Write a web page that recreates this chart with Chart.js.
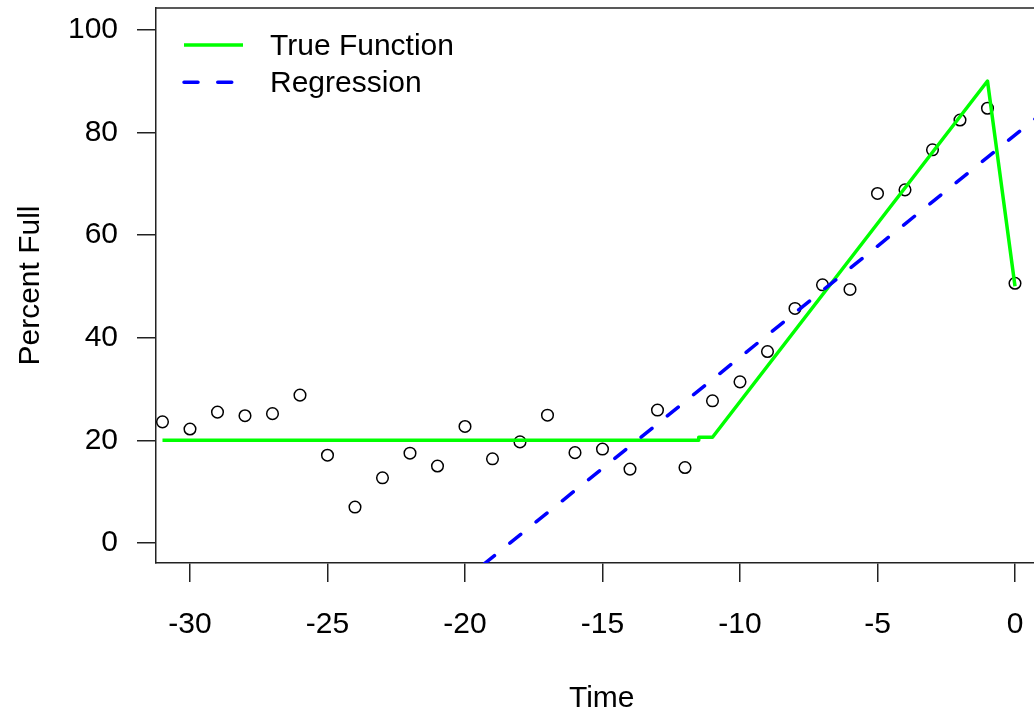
<!DOCTYPE html>
<html><head><meta charset="utf-8">
<script src="https://cdn.jsdelivr.net/npm/chart.js@4.4.1/dist/chart.umd.min.js"></script>
<style>html,body{margin:0;padding:0;background:#fff;overflow:hidden}canvas{display:block}</style>
</head><body>
<canvas id="c" width="1034" height="714"></canvas>
<script>
// ---- data ----
const timeVals = [-31,-30,-29,-28,-27,-26,-25,-24,-23,-22,-21,-20,-19,-18,-17,-16,-15,-14,-13,-12,-11,-10,-9,-8,-7,-6,-5,-4,-3,-2,-1,0];
const pctFull  = [23.6,22.2,25.5,24.8,25.2,28.8,17.1,7.0,12.7,17.5,15.0,22.7,16.4,19.7,24.9,17.6,18.3,14.4,25.9,14.7,27.7,31.4,37.3,45.7,50.3,49.4,68.1,68.8,76.6,82.4,84.7,50.6];
const trueX = [-31, -11.5, -11.5, -11, -1, 0];
const trueY = [20, 20, 20.6, 20.6, 90, 50];
const regX = [-31, 1];
const regY = [-54.7, 83.8];
const xTicks = [-30,-25,-20,-15,-10,-5,0];
const yTicks = [0,20,40,60,80,100];
const seriesLabels = ['True Function', 'Regression'];
const xTitle = 'Time';
const yTitle = 'Percent Full';

const FONT = "'Liberation Sans', Arial, Helvetica, sans-serif";
const AXIS_COLOR = '#222';
const AXIS_W = 1.5;
Chart.defaults.font.family = FONT;
Chart.defaults.color = '#000';

const toPts = (xs, ys) => xs.map((x, i) => ({x, y: ys[i]}));

const framePlugin = {
  id: 'frame',
  afterDraw(chart) {
    const {ctx, chartArea: a} = chart;
    ctx.save();
    ctx.strokeStyle = AXIS_COLOR;
    ctx.lineWidth = AXIS_W;
    ctx.beginPath();
    ctx.moveTo(a.left - AXIS_W / 2, a.top);
    ctx.lineTo(a.right, a.top);
    ctx.stroke();
    ctx.font = '30px ' + FONT;
    ctx.fillStyle = '#000';
    // x-axis title, centred on the (wider, cropped) plot region
    ctx.textAlign = 'center';
    ctx.textBaseline = 'middle';
    ctx.fillText(xTitle, a.left + 445.7, chart.height - 15);
    // legend (inside plot, top-left, no box)
    const ds = chart.data.datasets.filter(d => d.label);
    ds.forEach((d, i) => {
      const ly = a.top + 37 + i * 37.3;
      ctx.save();
      ctx.strokeStyle = d.borderColor;
      ctx.lineWidth = d.borderWidth;
      ctx.lineCap = d.borderCapStyle || 'butt';
      ctx.setLineDash(d.borderDash || []);
      ctx.beginPath();
      ctx.moveTo(a.left + 28, ly);
      ctx.lineTo(a.left + 87, ly);
      ctx.stroke();
      ctx.restore();
      ctx.textAlign = 'left';
      ctx.textBaseline = 'middle';
      ctx.fillText(d.label, a.left + 114, ly + 1.3);
    });
    ctx.restore();
  }
};

new Chart(document.getElementById('c'), {
  type: 'scatter',
  data: {
    datasets: [
      {
        data: toPts(timeVals, pctFull),
        showLine: false,
        pointStyle: 'circle',
        pointRadius: 5.8,
        pointHoverRadius: 5.8,
        pointBorderColor: '#000',
        pointBackgroundColor: 'rgba(0,0,0,0)',
        pointBorderWidth: 1.5,
        clip: false,
        order: 3
      },
      {
        label: seriesLabels[0],
        data: toPts(trueX, trueY),
        showLine: true,
        borderColor: '#00ff00',
        borderWidth: 3.5,
        borderCapStyle: 'butt',
        borderJoinStyle: 'round',
        pointRadius: 0,
        tension: 0,
        clip: 0,
        order: 2
      },
      {
        label: seriesLabels[1],
        data: toPts(regX, regY),
        showLine: true,
        borderColor: '#0000ff',
        borderWidth: 3.5,
        borderDash: [14, 19.75],
        borderDashOffset: 26,
        borderCapStyle: 'round',
        pointRadius: 0,
        tension: 0,
        clip: 0,
        order: 1
      }
    ]
  },
  options: {
    responsive: false,
    animation: false,
    events: [],
    layout: { autoPadding: false, padding: { top: 8, left: 0, right: 0, bottom: 0 } },
    plugins: { legend: { display: false }, tooltip: { enabled: false } },
    scales: {
      x: {
        type: 'linear',
        position: 'bottom',
        min: -31.236,
        max: 0.691,
        afterBuildTicks: s => { s.ticks = xTicks.map(v => ({value: v})); },
        afterFit: s => { s.height = 151; s.paddingLeft = 0; s.paddingRight = 0; },
        grid: { display: true, drawOnChartArea: false, drawTicks: true, tickLength: 19, color: AXIS_COLOR, lineWidth: AXIS_W },
        border: { display: true, color: AXIS_COLOR, width: AXIS_W },
        ticks: { autoSkip: false, maxRotation: 0, minRotation: 0, padding: 28, color: '#000', font: { size: 30, lineHeight: 1 } },
        title: { display: false, text: xTitle }
      },
      y: {
        type: 'linear',
        position: 'left',
        min: -3.896,
        max: 104.23,
        afterBuildTicks: s => { s.ticks = yTicks.map(v => ({value: v})); },
        afterFit: s => { s.width = 156; s.paddingTop = 0; s.paddingBottom = 0; },
        grid: { display: true, drawOnChartArea: false, drawTicks: true, tickLength: 19, color: AXIS_COLOR, lineWidth: AXIS_W },
        border: { display: true, color: AXIS_COLOR, width: AXIS_W },
        ticks: { padding: 19, color: '#000', font: { size: 30, lineHeight: 1 } },
        title: { display: true, text: yTitle, color: '#000', font: { size: 30, lineHeight: 1 }, padding: { top: 15.6, bottom: 0 } }
      }
    }
  },
  plugins: [framePlugin]
});
</script></body></html>
